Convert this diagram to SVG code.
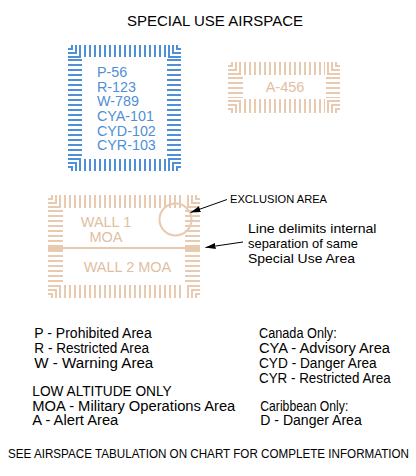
<svg xmlns="http://www.w3.org/2000/svg" width="416" height="476" viewBox="0 0 416 476">
<defs>
<style>
text{font-family:"Liberation Sans",Arial,sans-serif;}
.blue{stroke:#4f8fd6;fill:none;}
.tan{stroke:#e8cab0;fill:none;}
.band{stroke-dasharray:2 3;}
.corner{stroke-width:2;}
.bt{fill:#4f8fd6;font-size:14.3px;}
.tt{fill:#e0c0a2;font-size:14.5px;}
.lbl{fill:#000;font-size:13.8px;}
.conn{stroke:#000;stroke-width:1;fill:none;marker-end:url(#ah);}
</style>
<marker id="ah" viewBox="0 0 10 6" refX="10" refY="3" markerWidth="10" markerHeight="6" markerUnits="userSpaceOnUse" orient="auto">
<path d="M0,0 L10,3 L0,6 z" fill="#000"/>
</marker>
</defs>
<rect width="416" height="476" fill="#fff"/>
<text x="127" y="25.5" font-size="15" textLength="176" lengthAdjust="spacingAndGlyphs">SPECIAL USE AIRSPACE</text>

<g id="blue-area">
<line class="blue band" x1="84" y1="51" x2="166" y2="51" stroke-width="12"/>
<line class="blue band" x1="84" y1="165" x2="166" y2="165" stroke-width="12"/>
<line class="blue band" x1="75" y1="59" x2="75" y2="157" stroke-width="14"/>
<line class="blue band" x1="174" y1="59" x2="174" y2="157" stroke-width="14"/>
<path class="blue corner" d="M68,49 H72 V45 M68,53 H76 V45 M68,57 H80 V45 M181,49 H177 V45 M181,53 H173 V45 M181,57 H169 V45 M68,167 H72 V171 M68,163 H76 V171 M68,159 H80 V171 M181,167 H177 V171 M181,163 H173 V171 M181,159 H169 V171"/>
<text class="bt" x="97" y="77">P-56</text>
<text class="bt" x="97" y="91.7">R-123</text>
<text class="bt" x="97" y="106.3">W-789</text>
<text class="bt" x="97" y="121">CYA-101</text>
<text class="bt" x="97" y="135.6">CYD-102</text>
<text class="bt" x="97" y="150.3">CYR-103</text>
</g>

<g id="alert-area">
<line class="tan band" x1="244" y1="68.5" x2="325" y2="68.5" stroke-width="13"/>
<line class="tan band" x1="244" y1="106" x2="325" y2="106" stroke-width="14"/>
<line class="tan band" x1="235.5" y1="77" x2="235.5" y2="98" stroke-width="15"/>
<line class="tan band" x1="333" y1="77" x2="333" y2="98" stroke-width="14"/>
<path class="tan corner" d="M228,66 H232 V62 M228,70 H236 V62 M228,74 H240 V62 M340,66 H336 V62 M340,70 H332 V62 M340,74 H328 V62 M228,109 H232 V113 M228,105 H236 V113 M228,101 H240 V113 M340,109 H336 V113 M340,105 H332 V113 M340,101 H328 V113"/>
<text class="tt" x="285" y="92" text-anchor="middle">A-456</text>
</g>

<g id="moa-area">
<line class="tan band" x1="64" y1="201.5" x2="184" y2="201.5" stroke-width="13"/>
<line class="tan band" x1="64" y1="291.5" x2="184" y2="291.5" stroke-width="13"/>
<line class="tan band" x1="55.5" y1="210" x2="55.5" y2="284" stroke-width="15"/>
<line class="tan band" x1="192.5" y1="210" x2="192.5" y2="284" stroke-width="15"/>
<path class="tan corner" d="M48,199 H52 V195 M48,203 H56 V195 M48,207 H60 V195 M200,199 H196 V195 M200,203 H192 V195 M200,207 H188 V195 M48,294 H52 V298 M48,290 H56 V298 M48,286 H60 V298 M200,294 H196 V298 M200,290 H192 V298 M200,286 H188 V298"/>
<line class="tan" x1="48" y1="248" x2="200" y2="248" stroke-width="2"/>
<rect x="48" y="246" width="15" height="4" fill="#e8cab0"/>
<rect x="185" y="246" width="15" height="4" fill="#e8cab0"/>
<circle class="tan" cx="175.5" cy="219.5" r="16" stroke-width="2"/>
<text class="tt" x="106" y="227" text-anchor="middle">WALL 1</text>
<text class="tt" x="106" y="242" text-anchor="middle">MOA</text>
<text class="tt" x="127.5" y="272" text-anchor="middle">WALL 2 MOA</text>
</g>

<g id="exclusion-label">
<text x="230" y="203" font-size="11" textLength="97" lengthAdjust="spacingAndGlyphs">EXCLUSION AREA</text>
</g>
<g id="line-label">
<text x="248" y="233" font-size="13.5" textLength="128.5" lengthAdjust="spacingAndGlyphs">Line delimits internal</text>
<text x="248" y="248" font-size="13.5" textLength="110" lengthAdjust="spacingAndGlyphs">separation of same</text>
<text x="248" y="263" font-size="13.5" textLength="107" lengthAdjust="spacingAndGlyphs">Special Use Area</text>
</g>

<g id="connectors">
<line class="conn" x1="227" y1="199.5" x2="190.5" y2="212.5"/>
<line class="conn" x1="243" y1="242" x2="205.5" y2="247.5"/>
</g>

<g id="legend-left">
<text class="lbl" x="34.3" y="338.3" textLength="117.4" lengthAdjust="spacingAndGlyphs">P - Prohibited Area</text>
<text class="lbl" x="34.3" y="353.3" textLength="114.7" lengthAdjust="spacingAndGlyphs">R - Restricted Area</text>
<text class="lbl" x="34.3" y="368.3" textLength="119" lengthAdjust="spacingAndGlyphs">W - Warning Area</text>
<text class="lbl" x="32.3" y="396" textLength="139.4" lengthAdjust="spacingAndGlyphs">LOW ALTITUDE ONLY</text>
<text class="lbl" x="32.3" y="410.7" textLength="203" lengthAdjust="spacingAndGlyphs">MOA - Military Operations Area</text>
<text class="lbl" x="32.3" y="425" textLength="86" lengthAdjust="spacingAndGlyphs">A - Alert Area</text>
</g>
<g id="legend-right">
<text class="lbl" x="259" y="338.3" textLength="77.7" lengthAdjust="spacingAndGlyphs">Canada Only:</text>
<text class="lbl" x="259" y="353.3" textLength="131" lengthAdjust="spacingAndGlyphs">CYA - Advisory Area</text>
<text class="lbl" x="259" y="368.3" textLength="117.7" lengthAdjust="spacingAndGlyphs">CYD - Danger Area</text>
<text class="lbl" x="259" y="383.3" textLength="131.7" lengthAdjust="spacingAndGlyphs">CYR - Restricted Area</text>
<text class="lbl" x="260.3" y="410.7" textLength="88" lengthAdjust="spacingAndGlyphs">Caribbean Only:</text>
<text class="lbl" x="260.3" y="425" textLength="101.4" lengthAdjust="spacingAndGlyphs">D - Danger Area</text>
</g>
<text transform="translate(8,458.3) scale(1,1.12)" x="0" y="0" font-size="11.4" textLength="401" lengthAdjust="spacingAndGlyphs">SEE AIRSPACE TABULATION ON CHART FOR COMPLETE INFORMATION</text>
</svg>
